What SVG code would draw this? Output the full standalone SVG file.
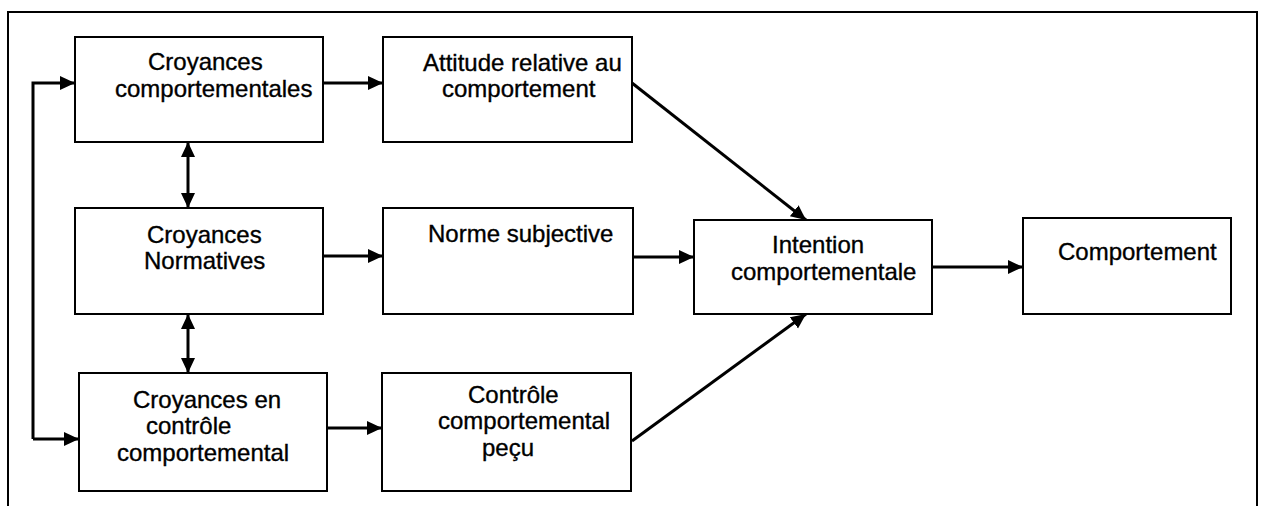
<svg xmlns="http://www.w3.org/2000/svg" width="1262" height="506" viewBox="0 0 1262 506">
<style>
.box{fill:#fff;stroke:#000;stroke-width:2}
.lbl{font-family:"Liberation Sans",Arial,sans-serif;font-size:24px;fill:#000;stroke:#000;stroke-width:0.35}
.con{fill:none;stroke:#000;stroke-width:3}
.frame{fill:none;stroke:#000;stroke-width:2}
</style>
<defs>
<marker id="ah" markerUnits="userSpaceOnUse" markerWidth="18" markerHeight="16" refX="15" refY="7" orient="auto">
<path d="M0,0 L15,7 L0,14 Z" fill="#000"/>
</marker>
<marker id="as" markerUnits="userSpaceOnUse" markerWidth="18" markerHeight="16" refX="0" refY="7" orient="auto">
<path d="M15,0 L0,7 L15,14 Z" fill="#000"/>
</marker>
</defs>
<path class="frame" d="M8,506 L8,12 L1257,12 L1257,506"/>
<g id="connectors">
<path class="con" d="M33,439 L33,83 L75,83" marker-end="url(#ah)"/>
<path class="con" d="M33,439 L79,439" marker-end="url(#ah)"/>
<line class="con" x1="323" y1="83" x2="383" y2="83" marker-end="url(#ah)"/>
<line class="con" x1="323" y1="256" x2="383" y2="256" marker-end="url(#ah)"/>
<line class="con" x1="327" y1="428" x2="382" y2="428" marker-end="url(#ah)"/>
<line class="con" x1="633" y1="257" x2="694" y2="257" marker-end="url(#ah)"/>
<line class="con" x1="932" y1="267" x2="1023" y2="267" marker-end="url(#ah)"/>
<line class="con" x1="632" y1="83" x2="806" y2="220" marker-end="url(#ah)"/>
<line class="con" x1="632" y1="441" x2="806" y2="314" marker-end="url(#ah)"/>
<line class="con" x1="188" y1="142" x2="188" y2="208" marker-start="url(#as)" marker-end="url(#ah)"/>
<line class="con" x1="188" y1="314" x2="188" y2="373" marker-start="url(#as)" marker-end="url(#ah)"/>
</g>
<g id="croyances-comportementales">
<rect class="box" x="75" y="37" width="248" height="105"/>
<text class="lbl" x="148" y="70">Croyances</text>
<text class="lbl" x="115" y="97">comportementales</text>
</g>
<g id="attitude">
<rect class="box" x="383" y="37" width="249" height="105"/>
<text class="lbl" x="423" y="71">Attitude relative au</text>
<text class="lbl" x="442" y="97">comportement</text>
</g>
<g id="croyances-normatives">
<rect class="box" x="75" y="208" width="248" height="106"/>
<text class="lbl" x="147" y="243">Croyances</text>
<text class="lbl" x="144" y="269">Normatives</text>
</g>
<g id="norme-subjective">
<rect class="box" x="383" y="208" width="250" height="106"/>
<text class="lbl" x="428" y="242">Norme subjective</text>
</g>
<g id="croyances-controle">
<rect class="box" x="79" y="373" width="248" height="118"/>
<text class="lbl" x="133" y="408">Croyances en</text>
<text class="lbl" x="146" y="434">contrôle</text>
<text class="lbl" x="117" y="461">comportemental</text>
</g>
<g id="controle-percu">
<rect class="box" x="382" y="373" width="249" height="118"/>
<text class="lbl" x="468" y="403">Contrôle</text>
<text class="lbl" x="438" y="429">comportemental</text>
<text class="lbl" x="482" y="456">peçu</text>
</g>
<g id="intention">
<rect class="box" x="694" y="220" width="238" height="94"/>
<text class="lbl" x="772" y="253">Intention</text>
<text class="lbl" x="731" y="280">comportementale</text>
</g>
<g id="comportement">
<rect class="box" x="1023" y="218" width="208" height="96"/>
<text class="lbl" x="1058" y="260">Comportement</text>
</g>
</svg>
